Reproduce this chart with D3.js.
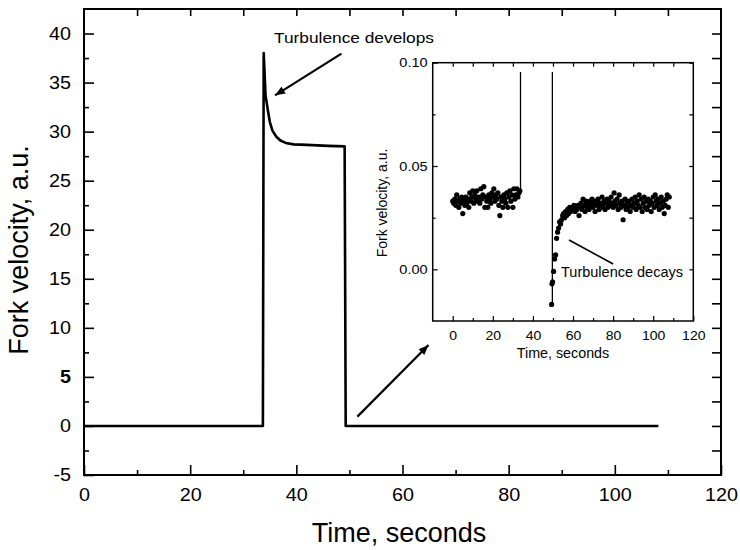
<!DOCTYPE html>
<html>
<head>
<meta charset="utf-8">
<script src="https://cdn.jsdelivr.net/npm/d3@7"></script>
<style>
  body { margin: 0; background: #fff; }
  svg { font-family: "Liberation Sans", Arial, sans-serif; }
  .sx text { transform-box: fill-box; transform-origin: center; }
  .sy text { transform-box: fill-box; transform-origin: right center; }
</style>
</head>
<body>
<div id="chart"></div>
<script>
// main trace
const mainTime = [0, 33.7, 33.85, 34.2, 34.6, 35.0, 35.5, 36.2, 37.0, 38.0, 39.5, 42.0, 46.0, 49.1, 49.3, 108.2];
const mainVelocity = [0, 0, 38.0, 33.7, 32.3, 31.0, 30.1, 29.5, 29.1, 28.85, 28.7, 28.65, 28.55, 28.5, 0, 0];
const xTicks = [0, 20, 40, 60, 80, 100, 120];
const yTicks = [-5, 0, 5, 10, 15, 20, 25, 30, 35, 40];

// inset scatter, before turbulence
const beforeTime = [0, 0.5, 1, 1.5, 2, 2.5, 3, 3.5, 4, 4.5, 5, 5.5, 6, 6.5, 7, 7.5, 8, 8.5, 9, 9.5,
  10, 10.5, 11, 11.5, 12, 12.5, 13, 13.5, 14, 14.5, 15, 15.5, 16, 16.5, 17, 17.5, 18, 18.5, 19, 19.5,
  20, 20.5, 21, 21.5, 22, 22.5, 23, 23.5, 24, 24.5, 25, 25.5, 26, 26.5, 27, 27.5, 28, 28.5, 29, 29.5,
  30, 30.5, 31, 31.5, 32, 32.5, 33, 33.5];
const beforeVelocity = [0.033, 0.032, 0.034, 0.031, 0.036, 0.033, 0.030, 0.034, 0.032, 0.035, 0.027, 0.033, 0.031, 0.035, 0.032, 0.034, 0.030, 0.037, 0.033, 0.035,
  0.038, 0.032, 0.036, 0.034, 0.038, 0.033, 0.035, 0.032, 0.039, 0.034, 0.036, 0.040, 0.030, 0.035, 0.033, 0.030, 0.036, 0.034, 0.032, 0.037,
  0.035, 0.039, 0.033, 0.036, 0.034, 0.037, 0.031, 0.026, 0.035, 0.033, 0.030, 0.036, 0.034, 0.032, 0.037, 0.030, 0.035, 0.038, 0.033, 0.036,
  0.030, 0.039, 0.034, 0.036, 0.039, 0.035, 0.037, 0.038];

// inset scatter, after turbulence
const afterTime = [49.3, 49.5, 49.8, 50.3, 50.8, 51.3, 51.8, 52.3, 52.8, 53.3, 53.8, 54.3, 54.8, 55.3, 55.8, 56.3, 56.8, 57.3, 57.8, 58.3,
  58.8, 59.3, 59.8, 60.5, 61, 61.5, 62, 62.5, 63, 63.5, 64, 64.5, 65, 65.5, 66, 66.5, 67, 67.5, 68, 68.5,
  69, 69.5, 70, 70.5, 71, 71.5, 72, 72.5, 73, 73.5, 74, 74.5, 75, 75.5, 76, 76.5, 77, 77.5, 78, 78.5,
  79, 79.5, 80, 80.5, 81, 81.5, 82, 82.5, 83, 83.5, 84, 84.5, 85, 85.5, 86, 86.5, 87, 87.5, 88, 88.5,
  89, 89.5, 90, 90.5, 91, 91.5, 92, 92.5, 93, 93.5, 94, 94.5, 95, 95.5, 96, 96.5, 97, 97.5, 98, 98.5,
  99, 99.5, 100, 100.5, 101, 101.5, 102, 102.5, 103, 103.5, 104, 104.5, 105, 105.5, 106, 106.5, 107, 107.5, 108];
const afterVelocity = [-0.017, -0.007, -0.006, -0.001, 0.005, 0.007, 0.015, 0.018, 0.020, 0.023, 0.022, 0.024, 0.026, 0.027, 0.025, 0.028, 0.026, 0.029, 0.027, 0.030,
  0.028, 0.030, 0.029, 0.031, 0.028, 0.030, 0.029, 0.031, 0.026, 0.030, 0.032, 0.029, 0.034, 0.031, 0.028, 0.033, 0.030, 0.032, 0.029, 0.033,
  0.031, 0.034, 0.030, 0.032, 0.028, 0.033, 0.031, 0.034, 0.029, 0.032, 0.030, 0.035, 0.031, 0.033, 0.029, 0.032, 0.034, 0.030, 0.033, 0.031,
  0.035, 0.032, 0.030, 0.037, 0.033, 0.031, 0.034, 0.029, 0.036, 0.032, 0.030, 0.033, 0.024, 0.031, 0.034, 0.029, 0.032, 0.030, 0.033, 0.028,
  0.031, 0.034, 0.030, 0.032, 0.035, 0.029, 0.033, 0.031, 0.036, 0.030, 0.034, 0.028, 0.032, 0.035, 0.030, 0.033, 0.029, 0.034, 0.031, 0.033,
  0.028, 0.032, 0.035, 0.030, 0.036, 0.033, 0.031, 0.034, 0.029, 0.032, 0.035, 0.030, 0.033, 0.027, 0.031, 0.034, 0.036, 0.030, 0.035];

// inset vertical traces
const riseTime = [33.8, 33.8];
const riseVelocity = [0.037, 0.0955];
const fallTime = [49.7, 49.7];
const fallVelocity = [0.0955, -0.0173];
const insetXTicks = [0, 20, 40, 60, 80, 100, 120];
const insetYTicks = [0, 0.05, 0.1];

const width = 740;
const height = 550;

const svg = d3.select('#chart')
  .append('svg')
  .attr('width', width)
  .attr('height', height);

svg.append('defs').append('marker')
  .attr('id', 'head')
  .attr('viewBox', '0 0 10 8')
  .attr('refX', 10).attr('refY', 4)
  .attr('markerWidth', 11).attr('markerHeight', 8)
  .attr('markerUnits', 'userSpaceOnUse')
  .attr('orient', 'auto')
  .append('path').attr('d', 'M0,0 L10,4 L0,8 Z').attr('fill', '#000');

// ---- main plot
const x = d3.scaleLinear().domain([0, 120]).range([84, 721]);
const y = d3.scaleLinear().domain([-5, 42.5]).range([475, 9]);

function frame(g, sx, sy, w) {
  g.append('rect')
    .attr('x', sx.range()[0]).attr('y', sy.range()[1])
    .attr('width', sx.range()[1] - sx.range()[0])
    .attr('height', sy.range()[0] - sy.range()[1])
    .attr('fill', 'none').attr('stroke', '#000').attr('stroke-width', w);
}

function ticksOnly(g, axis, w) {
  g.call(axis);
  g.select('.domain').remove();
  g.selectAll('.tick line').attr('stroke', '#000').attr('stroke-width', w);
}

svg.append('rect').attr('x', 84).attr('y', 9).attr('width', 637).attr('height', 466).attr('fill', '#fff');

// minor ticks
ticksOnly(svg.append('g').attr('transform', `translate(0,${y(-5)})`),
  d3.axisBottom(x).tickValues(d3.range(10, 120, 20)).tickSize(-5).tickFormat(''), 1.6);
ticksOnly(svg.append('g').attr('transform', `translate(${x(0)},0)`),
  d3.axisLeft(y).tickValues(d3.range(-2.5, 42, 5)).tickSize(-5).tickFormat(''), 1.6);
ticksOnly(svg.append('g').attr('transform', `translate(0,${y(42.5)})`),
  d3.axisTop(x).tickValues(d3.range(10, 120, 10)).tickSize(-7).tickFormat(''), 1.6);
ticksOnly(svg.append('g').attr('transform', `translate(${x(120)},0)`),
  d3.axisRight(y).tickValues(d3.range(-2.5, 42, 2.5)).tickSize(-9).tickFormat(''), 1.6);

// major ticks with labels (plain hyphen for negatives, as in the original)
const plain = d => String(d);

const xAxisG = svg.append('g').attr('class', 'sx')
  .attr('transform', `translate(0,${y(-5)})`);
ticksOnly(xAxisG, d3.axisBottom(x).tickValues(xTicks).tickSize(-10).tickPadding(14).tickFormat(plain), 1.6);
xAxisG.selectAll('text').attr('font-size', 17.5).attr('fill', '#000').style('transform', 'scaleX(1.13)');
xAxisG.attr('font-family', null);

const yAxisG = svg.append('g').attr('class', 'sy')
  .attr('transform', `translate(${x(0)},0)`);
ticksOnly(yAxisG, d3.axisLeft(y).tickValues(yTicks).tickSize(-10).tickPadding(13).tickFormat(plain), 1.6);
yAxisG.selectAll('text').attr('font-size', 17.5).attr('fill', '#000').style('transform', 'scaleX(1.13)');
yAxisG.selectAll('.tick').filter(d => d === 5).select('text').attr('font-weight', 'bold');
yAxisG.attr('font-family', null);

frame(svg, x, y, 2);

svg.append('path')
  .datum(mainTime.map((t, i) => [t, mainVelocity[i]]))
  .attr('fill', 'none').attr('stroke', '#000').attr('stroke-width', 2.6)
  .attr('stroke-linejoin', 'round')
  .attr('d', d3.line().x(d => x(d[0])).y(d => y(d[1])));

svg.append('text')
  .attr('x', 399).attr('y', 542)
  .attr('text-anchor', 'middle').attr('font-size', 27)
  .text('Time, seconds');

svg.append('text')
  .attr('transform', 'translate(28,250) rotate(-90)')
  .attr('text-anchor', 'middle').attr('font-size', 27)
  .text('Fork velocity, a.u.');

// annotations
svg.append('text')
  .attr('x', 274).attr('y', 43).attr('font-size', 15)
  .attr('textLength', 160).attr('lengthAdjust', 'spacingAndGlyphs')
  .text('Turbulence develops');

svg.append('line')
  .attr('x1', x(48.5)).attr('y1', y(37.95))
  .attr('x2', x(36.0)).attr('y2', y(33.7))
  .attr('stroke', '#000').attr('stroke-width', 2.2)
  .attr('marker-end', 'url(#head)');

svg.append('line')
  .attr('x1', x(51.5)).attr('y1', y(0.95))
  .attr('x2', x(64.9)).attr('y2', y(8.25))
  .attr('stroke', '#000').attr('stroke-width', 2.2)
  .attr('marker-end', 'url(#head)');

// ---- inset
const ix = d3.scaleLinear().domain([-10, 120]).range([432.7, 693.3]);
const iy = d3.scaleLinear().domain([-0.025, 0.1]).range([321, 62.7]);

svg.append('rect').attr('x', 432.7).attr('y', 62.7).attr('width', 260.6).attr('height', 258.3).attr('fill', '#fff');

ticksOnly(svg.append('g').attr('transform', `translate(0,${iy(-0.025)})`),
  d3.axisBottom(ix).tickValues(d3.range(10, 120, 20)).tickSize(-3).tickFormat(''), 1.2);
ticksOnly(svg.append('g').attr('transform', `translate(0,${iy(0.1)})`),
  d3.axisTop(ix).tickValues(d3.range(0, 120, 10)).tickSize(-4).tickFormat(''), 1.2);
ticksOnly(svg.append('g').attr('transform', `translate(${ix(-10)},0)`),
  d3.axisLeft(iy).tickValues([0.075, 0.025]).tickSize(-3).tickFormat(''), 1.2);
ticksOnly(svg.append('g').attr('transform', `translate(${ix(120)},0)`),
  d3.axisRight(iy).tickValues([0.1, 0.075, 0.05, 0.025, 0]).tickSize(-4).tickFormat(''), 1.2);

const ixAxisG = svg.append('g').attr('class', 'sx')
  .attr('transform', `translate(0,${iy(-0.025)})`);
ticksOnly(ixAxisG, d3.axisBottom(ix).tickValues(insetXTicks).tickSize(-5).tickPadding(10).tickFormat(plain), 1.2);
ixAxisG.selectAll('text').attr('font-size', 13).attr('fill', '#000').style('transform', 'scaleX(1.08)');
ixAxisG.attr('font-family', null);

const iyAxisG = svg.append('g').attr('class', 'sy')
  .attr('transform', `translate(${ix(-10)},0)`);
ticksOnly(iyAxisG, d3.axisLeft(iy).tickValues(insetYTicks).tickSize(-5).tickPadding(5).tickFormat(d3.format('.2f')), 1.2);
iyAxisG.selectAll('text').attr('font-size', 13).attr('fill', '#000').style('transform', 'scaleX(1.12)');
iyAxisG.attr('font-family', null);

frame(svg, ix, iy, 1.5);

const iline = d3.line().x(d => ix(d[0])).y(d => iy(d[1]));
[[riseTime, riseVelocity], [fallTime, fallVelocity]].forEach(([ts, vs]) => {
  svg.append('path')
    .datum(ts.map((t, i) => [t, vs[i]]))
    .attr('fill', 'none').attr('stroke', '#000').attr('stroke-width', 1.3)
    .attr('d', iline);
});

const dots = beforeTime.map((t, i) => [t, beforeVelocity[i]])
  .concat(afterTime.map((t, i) => [t, afterVelocity[i]]));

svg.append('g')
  .selectAll('circle')
  .data(dots)
  .join('circle')
    .attr('cx', d => ix(d[0]))
    .attr('cy', d => iy(d[1]))
    .attr('r', 2.6)
    .attr('fill', '#000');

svg.append('line')
  .attr('x1', ix(58)).attr('y1', iy(0.0142))
  .attr('x2', ix(80)).attr('y2', iy(0.0026))
  .attr('stroke', '#000').attr('stroke-width', 1.6);

svg.append('text')
  .attr('x', 561).attr('y', 277).attr('font-size', 14.5)
  .text('Turbulence decays');

svg.append('text')
  .attr('x', 563).attr('y', 358)
  .attr('text-anchor', 'middle').attr('font-size', 14.3)
  .text('Time, seconds');

svg.append('text')
  .attr('transform', 'translate(387,203) rotate(-90)')
  .attr('text-anchor', 'middle').attr('font-size', 14)
  .text('Fork velocity, a.u.');
</script>
</body>
</html>
